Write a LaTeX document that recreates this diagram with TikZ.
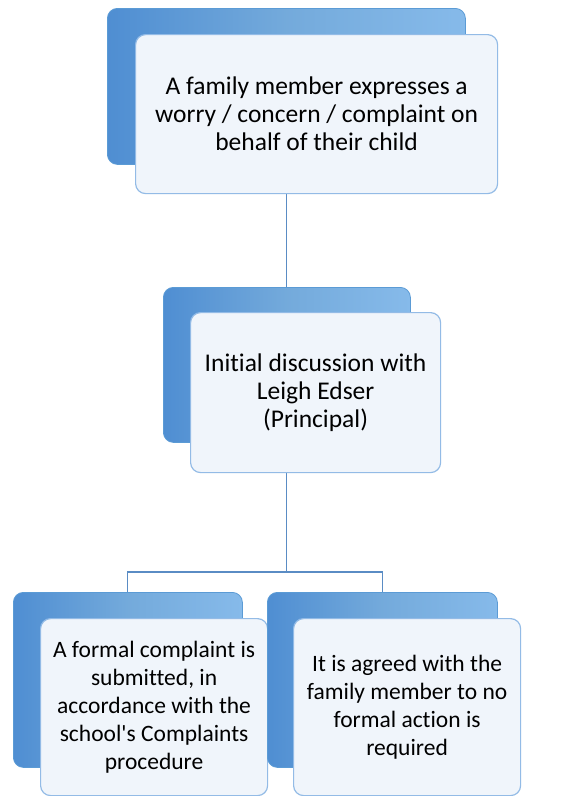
\documentclass[tikz,border=0pt]{standalone}
\usepackage{fontspec}
\setmainfont{Carlito}[Ligatures={TeX,NoCommon}]
\usetikzlibrary{positioning,backgrounds}
\definecolor{backblue}{HTML}{5B9BD5}
\definecolor{backdark}{HTML}{4F8ED2}
\definecolor{backlight}{HTML}{86BAEA}
\definecolor{frontfill}{HTML}{F0F5FB}
\definecolor{frontline}{HTML}{93BBE6}
\definecolor{linkblue}{HTML}{5A8CC4}

\begin{document}
\begin{tikzpicture}[x=1pt, y=-1pt,
	back/.style={anchor=north west, draw=backblue, rounded corners=10pt, left color=backdark, right color=backlight, middle color=backblue!85!white, line width=0.8pt},
	front/.style={anchor=north west, draw=frontline, fill=frontfill, rounded corners=10pt, line width=1.2pt, align=center,
		font=\fontsize{25.5}{28}\selectfont, inner sep=0pt},
	small/.style={font=\fontsize{23.5}{28}\selectfont},
	link/.style={draw=linkblue, line width=1.1pt}]
	\useasboundingbox (0,0) rectangle (567,796);

	\node[back, minimum width=358pt, minimum height=156pt] (topb) at (107,8) {};
	\node[front, minimum width=362pt, minimum height=159pt] (top) at (135,34) {A family member expresses a\\worry / concern / complaint on\\behalf of their child};

	\node[back, minimum width=247pt, minimum height=155pt] (midb) at (163,287) {};
	\node[front, minimum width=250pt, minimum height=160pt] (mid) at (190,312) {Initial discussion with\\Leigh Edser\\(Principal)};

	\node[back, minimum width=229pt, minimum height=175pt] (leftb) at (13,592) {};
	\node[front, small, minimum width=227pt, minimum height=177pt] (left) at (40,618) {A formal complaint is\\submitted, in\\accordance with the\\school\textquotesingle s Complaints\\procedure};

	\node[back, minimum width=230pt, minimum height=175pt] (rightb) at (267,592) {};
	\node[front, small, minimum width=227pt, minimum height=177pt] (right) at (293,618) {It is agreed with the\\family member to no\\formal action is\\required};

	\coordinate (split) at (288,572);

	\begin{pgfonlayer}{background}
		\fill[white] (0,0) rectangle (567,796);
		\path[link] (topb) -- (topb |- midb);
		\path[link] (midb) -- (midb |- split);
		\path[link] (leftb) |- (split) -| (rightb);
	\end{pgfonlayer}
\end{tikzpicture}
\end{document}
